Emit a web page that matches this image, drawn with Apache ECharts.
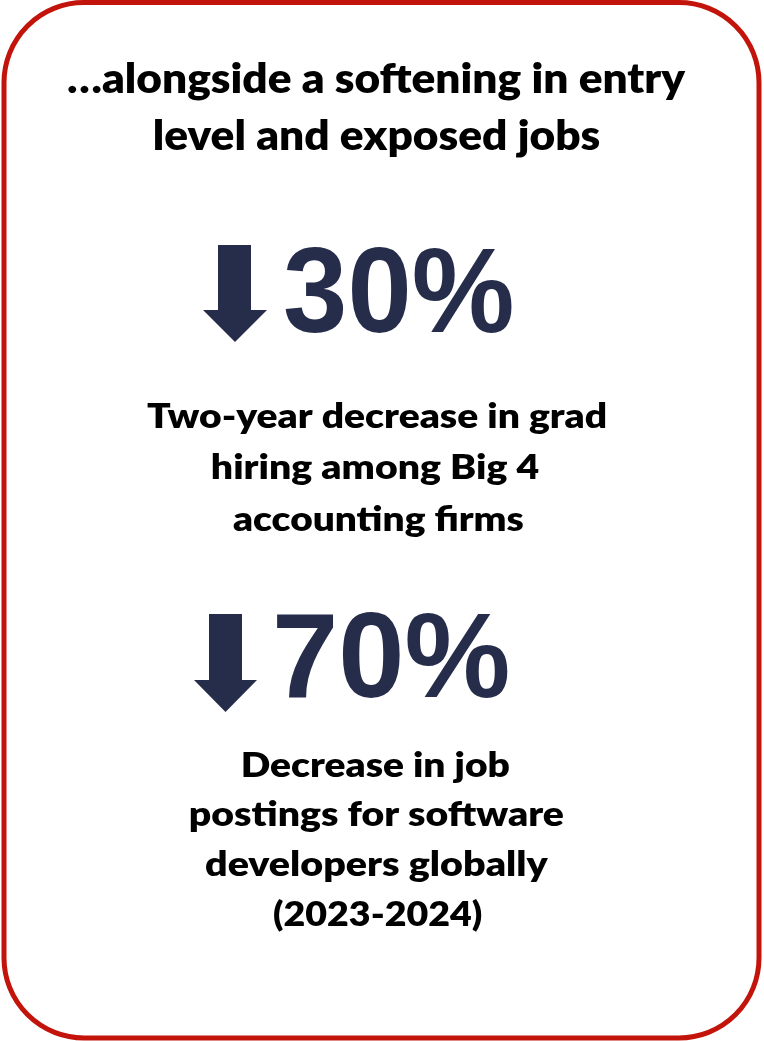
<!DOCTYPE html>
<html>
<head>
<meta charset="utf-8">
<script src="https://cdn.jsdelivr.net/npm/echarts@6/dist/echarts.min.js"></script>
<style>
  html, body { margin: 0; padding: 0; background: #ffffff; }
  #chart { width: 764px; height: 1041px; }
</style>
</head>
<body>
<div id="chart"></div>
<script>
// ---- data ----
const titleLines = ['…alongside a softening in entry', 'level and exposed jobs'];
const statValues = [30, 70];
const statSuffix = '%';
const statDescriptions = [
  ['Two-year decrease in grad', 'hiring among Big 4', 'accounting firms'],
  ['Decrease in job', 'postings for software', 'developers globally', '(2023-2024)']
];

// ---- layout ----
const NAVY = '#262D4B';
const RED = '#C2140A';
const TEXT = '#000000';
const titleFont = '800 41px Lato';
const bodyFont = '800 33px Lato';
const bigFont = 'bold 121px "Liberation Sans"';

const titleLayout = [
  { l: 68, r: 686, base: 93 },
  { l: 155, r: 600, base: 150 }
];
const statLayout = [
  { l: 285, r: 512, base: 332, arrow: { sl: 218, sr: 251, top: 245, hl: 203, hr: 267, ht: 310, tip: 342 },
    lines: [{ l: 147, r: 606, base: 428 }, { l: 212, r: 539, base: 479 }, { l: 233, r: 523, base: 531 }] },
  { l: 277, r: 508, base: 697, arrow: { sl: 209, sr: 242, top: 614, hl: 194, hr: 257, ht: 680, tip: 712 },
    lines: [{ l: 243, r: 510, base: 777 }, { l: 190, r: 563, base: 826 }, { l: 205, r: 548, base: 876 }, { l: 273, r: 482, base: 926 }] }
];

const mctx = document.createElement('canvas').getContext('2d');
function fitText(text, font, fill, inkL, inkR, baseY) {
  mctx.font = font;
  mctx.textAlign = 'left';
  mctx.textBaseline = 'middle';
  const m = mctx.measureText(text);
  const inkW = m.actualBoundingBoxLeft + m.actualBoundingBoxRight;
  const s = (inkR - inkL) / inkW;
  const off = mctx.measureText('H').actualBoundingBoxDescent;
  return {
    type: 'text',
    x: inkL + s * m.actualBoundingBoxLeft,
    y: baseY - off,
    scaleX: s,
    style: { text: text, font: font, fill: fill, x: 0, y: 0,
             align: 'left', verticalAlign: 'middle', textAlign: 'left', textVerticalAlign: 'middle' }
  };
}

const elements = [];
elements.push({
  type: 'rect',
  shape: { x: 4, y: 2.5, width: 755, height: 1035.5, r: 80 },
  style: { fill: '#ffffff', stroke: RED, lineWidth: 5 }
});
titleLines.forEach((t, i) => {
  const L = titleLayout[i];
  elements.push(fitText(t, titleFont, TEXT, L.l, L.r, L.base));
});
statValues.forEach((v, i) => {
  const S = statLayout[i];
  const a = S.arrow;
  const cx = (a.hl + a.hr) / 2;
  elements.push({
    type: 'polygon',
    shape: { points: [[a.sl, a.top], [a.sr, a.top], [a.sr, a.ht], [a.hr, a.ht], [cx, a.tip], [a.hl, a.ht], [a.sl, a.ht]] },
    style: { fill: NAVY }
  });
  elements.push(fitText(String(v) + statSuffix, bigFont, NAVY, S.l, S.r, S.base));
  statDescriptions[i].forEach((line, j) => {
    const L = S.lines[j];
    elements.push(fitText(line, bodyFont, TEXT, L.l, L.r, L.base));
  });
});

const chart = echarts.init(document.getElementById('chart'), null, { renderer: 'canvas' });
chart.setOption({
  backgroundColor: '#ffffff',
  animation: false,
  graphic: { elements: elements }
});
</script>
</body>
</html>
